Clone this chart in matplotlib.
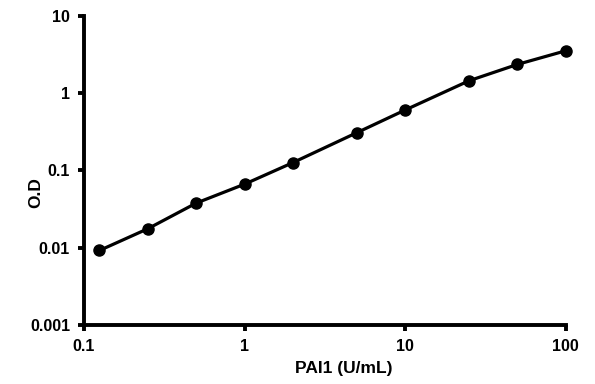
import matplotlib
matplotlib.use("Agg")
import matplotlib.pyplot as plt
from matplotlib.ticker import FixedLocator, NullLocator

plt.rcParams['font.family'] = ['Liberation Sans', 'DejaVu Sans']
plt.rcParams['font.weight'] = 'bold'

# standard curve
conc = [0.125, 0.25, 0.5, 1, 2, 5, 10, 25, 50, 100]
od = [0.0092, 0.0176, 0.0378, 0.0665, 0.1265, 0.309, 0.608, 1.456, 2.37, 3.56]

xticks = [0.1, 1, 10, 100]
xtick_labels = ['0.1', '1', '10', '100']
yticks = [0.001, 0.01, 0.1, 1, 10]
ytick_labels = ['0.001', '0.01', '0.1', '1', '10']

fig = plt.figure(figsize=(5.95, 3.84), dpi=100)
ax = fig.add_axes([0.141, 0.154, 0.81, 0.804])

ax.plot(conc, od, color='black', lw=2.3, marker='o', ms=8, clip_on=False, zorder=3)

ax.set_xscale('log')
ax.set_yscale('log')
ax.set_xlim(0.1, 100)
ax.set_ylim(0.001, 10)

ax.xaxis.set_major_locator(FixedLocator(xticks))
ax.yaxis.set_major_locator(FixedLocator(yticks))
ax.xaxis.set_minor_locator(NullLocator())
ax.yaxis.set_minor_locator(NullLocator())
ax.set_xticklabels(xtick_labels, fontsize=11.5, fontweight='bold')
ax.set_yticklabels(ytick_labels, fontsize=11.5, fontweight='bold')

for s in ['top', 'right']:
    ax.spines[s].set_visible(False)
for s in ['left', 'bottom']:
    ax.spines[s].set_linewidth(2.8)
ax.tick_params(width=2.8, length=4, direction='out', pad=6)

ax.set_xlabel('PAI1 (U/mL)', fontsize=12.5, fontweight='bold')
ax.set_ylabel('O.D', fontsize=12.5, fontweight='bold')
ax.xaxis.set_label_coords(0.54, -0.118)
ax.yaxis.set_label_coords(-0.085, 0.43)

fig.savefig('out.png', dpi=100)
